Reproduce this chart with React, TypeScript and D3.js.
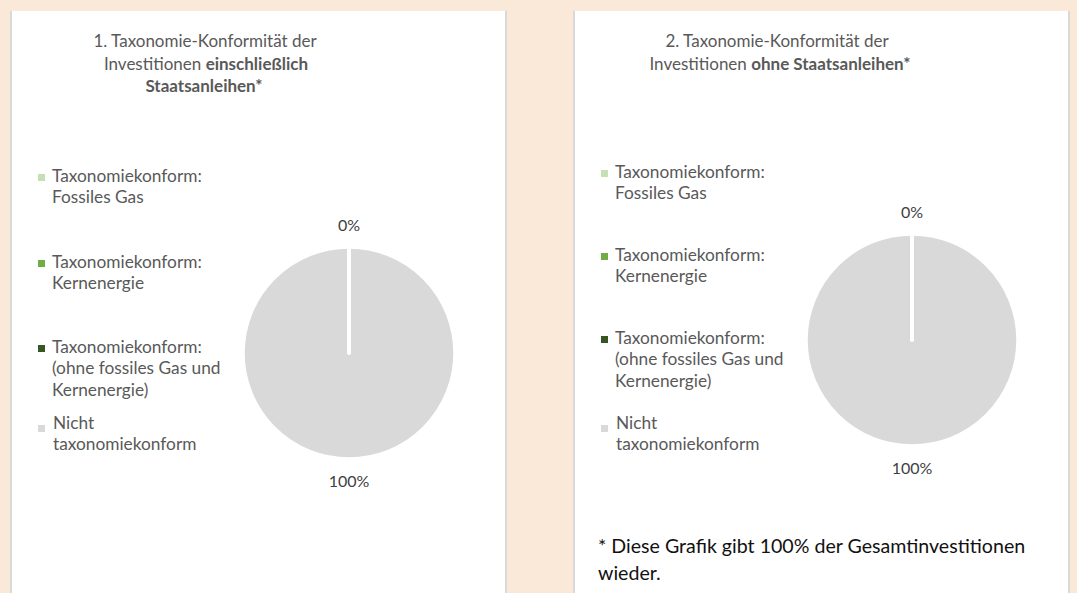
import React from 'react'
import * as d3 from 'd3'

// legend entries (same for both charts)
const legendLines = [
    ["Taxonomiekonform:", "Fossiles Gas"],
    ["Taxonomiekonform:", "Kernenergie"],
    ["Taxonomiekonform:", "(ohne fossiles Gas und", "Kernenergie)"],
    ["Nicht", "taxonomiekonform"]
]
const sliceColors = ["#C5E0B4", "#70AD47", "#375623", "#D9D9D9"]

// share of investments per category, in %
const valuesInclSovereign = [0, 0, 0, 100]
const valuesExclSovereign = [0, 0, 0, 100]

const footnote = ["* Diese Grafik gibt 100% der Gesamtinvestitionen", "wieder."]

const W = 1077, H = 593
const FONT = "Lato, 'Open Sans', sans-serif"
const GREY_TEXT = "#595959"

const PieChart = ({values, cx, cy, radius}) => {
    const pie = d3.pie().sort(null).value(d => d)
    const arcs = pie(values)
    const arc = d3.arc().innerRadius(0).outerRadius(radius)
    const labelArc = d3.arc().innerRadius(radius + 22).outerRadius(radius + 22)
    const total = d3.sum(values)
    const fmt = v => `${Math.round(v / total * 100)}%`

    // empty slices all land on the same spot, one label is enough there
    const seen = new Set()
    const labels = arcs.filter(a => {
        const k = `${fmt(a.value)}@${((a.startAngle + a.endAngle) / 2).toFixed(3)}`
        if (seen.has(k)) return false
        seen.add(k)
        return true
    })

    return (
        <g transform={`translate(${cx}, ${cy})`}>
            {/* draw backwards so the empty slices' white edges sit on top */}
            {arcs.slice().reverse().map((a, i) =>
                <path key={i} d={arc(a)} fill={sliceColors[a.index]}
                      stroke="#fff" strokeWidth={3.5} strokeLinejoin="round" />
            )}
            {labels.map((a, i) => {
                const [x, y] = labelArc.centroid(a)
                return <text key={i} x={x} y={y} dy="0.35em" textAnchor="middle"
                             fill="#404040" style={{fontSize: "16px"}}>{fmt(a.value)}</text>
            })}
        </g>
    )
}

const Legend = ({x, rows}) => {
    const lh = 21.5
    return (
        <g>
            {legendLines.map((lines, i) =>
                <g key={i}>
                    <rect x={x} y={rows[i] - 3 + (i == 3 ? 5 : 1)} width={7} height={7} fill={sliceColors[i]} />
                    {lines.map((l, j) =>
                        <text key={j} x={x + 14 + (i == 3 ? 1 : 0)} y={rows[i] + j * lh + 5.5}
                              fill={GREY_TEXT} style={{fontSize: "17.3px"}}>{l}</text>
                    )}
                </g>
            )}
        </g>
    )
}

const Panel = ({x, w}) => (
    <g>
        <rect x={x} y={11} width={w} height={H - 11} fill="#fff" />
        <rect x={x} y={11} width={2} height={H - 11} fill="#D9D9D9" />
        <rect x={x + w - 2} y={11} width={2} height={H - 11} fill="#D9D9D9" />
    </g>
)

export default function App() {
    const tStyle = {fontSize: "17px"}
    return (
        <svg width={W} height={H} style={{position: "absolute", left: 0, top: 0, display: "block"}}
             fontFamily={FONT}>
            <rect width={W} height={H} fill="#FAE8D8" />
            <Panel x={10} w={497} />
            <Panel x={573} w={497} />

            {/* chart 1 */}
            <g fill={GREY_TEXT} textAnchor="middle" style={tStyle}>
                <text x={205} y={47}>1. Taxonomie-Konformität der</text>
                <text x={206} y={70}>Investitionen <tspan fontWeight="bold">einschließlich</tspan></text>
                <text x={204} y={92} fontWeight="bold">Staatsanleihen*</text>
            </g>
            <Legend x={38} rows={[176, 262, 347, 423]} />
            <PieChart values={valuesInclSovereign} cx={349} cy={353} radius={106} />

            {/* chart 2 */}
            <g fill={GREY_TEXT} textAnchor="middle" style={tStyle}>
                <text x={777} y={47}>2. Taxonomie-Konformität der</text>
                <text x={780} y={70}>Investitionen <tspan fontWeight="bold">ohne Staatsanleihen*</tspan></text>
            </g>
            <Legend x={601} rows={[172, 255, 338, 423]} />
            <PieChart values={valuesExclSovereign} cx={912} cy={340} radius={106} />

            <g fill="#111" style={{fontSize: "19.6px"}}>
                {footnote.map((l, i) =>
                    <text key={i} x={598} y={553 + i * 27}>{l}</text>
                )}
            </g>
        </svg>
    )
}
